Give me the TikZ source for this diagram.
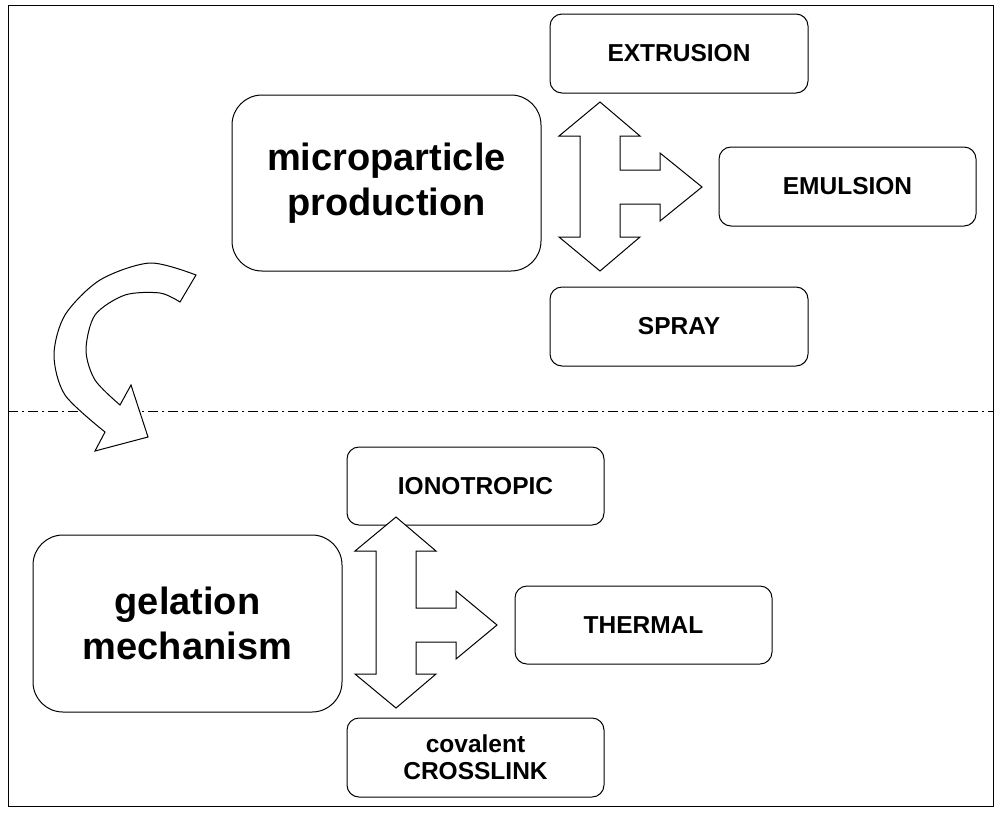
\documentclass[tikz,border=0pt]{standalone}
\usepackage{fontspec}
\setmainfont{Liberation Sans}
\begin{document}
\begin{tikzpicture}[x=1pt,y=-1pt,line width=1pt,
  box/.style={draw,rounded corners=12pt,inner sep=0pt,font=\fontsize{24.5}{27}\selectfont\bfseries,align=center},
  big/.style={draw,rounded corners=30pt,inner sep=0pt,font=\fontsize{38}{45}\selectfont\bfseries,align=center}]
\useasboundingbox (0,0) rectangle (1000,812);
\draw (8,5) rectangle (993,806);
\draw[dash pattern=on 10pt off 4pt on 2pt off 4pt] (8,411) -- (993,411);
\node[big,minimum width=309pt,minimum height=176pt] (mp) at (386.5,183) {microparticle\\production};
\node[box,minimum width=258pt,minimum height=79pt] (ex) at (679,53.5) {EXTRUSION};
\node[box,minimum width=257pt,minimum height=79pt] (em) at (847.5,186.5) {EMULSION};
\node[box,minimum width=258pt,minimum height=79pt] (sp) at (679,326.5) {SPRAY};
\node[big,minimum width=309pt,minimum height=177pt] (gm) at (187.5,623.5) {gelation\\mechanism};
\node[box,minimum width=257pt,minimum height=78pt] (io) at (475.5,486) {IONOTROPIC};
\node[box,minimum width=257pt,minimum height=78pt] (th) at (643.5,625) {THERMAL};
\node[box,minimum width=257pt,minimum height=79pt] (cv) at (475.5,757.5) {covalent\\CROSSLINK};
% three-way arrows
\newcommand{\triparrow}[5]{% cx, top tip, bottom tip, branch y, right tip x
  \draw[fill=white] (#1,#2) -- (#1+40,#2+34) -- (#1+20,#2+34) -- (#1+20,#4-17)
   -- (#1+60,#4-17) -- (#1+60,#4-34) -- (#5,#4) -- (#1+60,#4+34) -- (#1+60,#4+17)
   -- (#1+20,#4+17) -- (#1+20,#3-34) -- (#1+40,#3-34) -- (#1,#3) -- (#1-41,#3-34)
   -- (#1-20,#3-34) -- (#1-20,#2+34) -- (#1-41,#2+34) -- cycle;}
\triparrow{600}{102}{271}{187}{702}
\triparrow{396}{517}{708}{625}{497}
% curved arrow
\draw[fill=white] plot[smooth] coordinates {(196,275) (150,263) (100,280) (65,315) (54,355) (65,395) (105,432)}
  -- (95,451) -- (148,437) -- (131,385)
  -- plot[smooth] coordinates {(120,405) (95,380) (86,350) (95,315) (125,295) (160,293) (180,302)} -- cycle;
\end{tikzpicture}
\end{document}
